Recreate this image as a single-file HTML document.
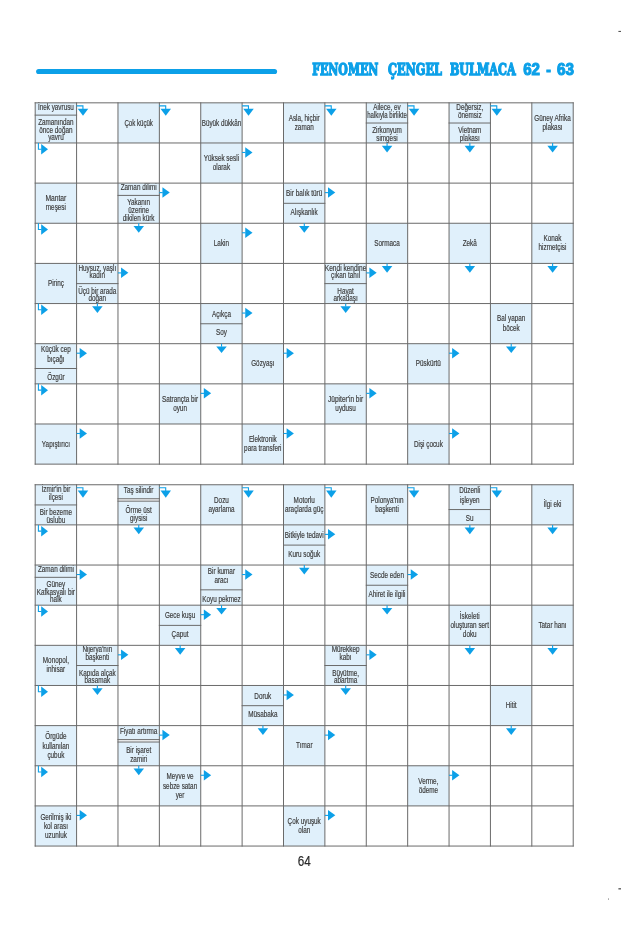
<!DOCTYPE html>
<html lang="tr"><head><meta charset="utf-8"><title>Fenomen Çengel Bulmaca 62 - 63</title>
<style>
html,body{margin:0;padding:0;background:#fff}
svg{display:block;will-change:transform}
text{font-family:"Liberation Sans",sans-serif}
.t text{font-size:8.2px;fill:#3c3c3c;text-anchor:middle;stroke:#3c3c3c;stroke-width:0.18px}
.a polyline{fill:none;stroke-width:1.1}
.h{font-family:"DejaVu Serif Condensed","DejaVu Serif","Liberation Serif",serif;font-size:16.4px;font-weight:bold;fill:#0ca0e8;stroke:#0ca0e8;stroke-width:1.3px;stroke-linejoin:miter;}
.hd{font-family:"Liberation Sans",sans-serif;font-size:16.8px;stroke-width:1.1px}
.p{font-size:15.4px;fill:#2a2a2a;stroke:#2a2a2a;stroke-width:0.2px}
</style></head><body>
<svg width="621" height="931" viewBox="0 0 621 931"><rect width="621" height="931" fill="#fff"/><line x1="38.7" y1="71.5" x2="274.5" y2="71.5" stroke="#0ca0e8" stroke-width="5.2" stroke-linecap="round"/><text class="h" x="312.2" y="74.9" textLength="66.2" lengthAdjust="spacingAndGlyphs">FENOMEN</text><text class="h" x="388.0" y="74.9" textLength="54.0" lengthAdjust="spacingAndGlyphs">ÇENGEL</text><text class="h" x="449.9" y="74.9" textLength="65.7" lengthAdjust="spacingAndGlyphs">BULMACA</text><text class="h hd" x="523.2" y="74.9" textLength="16.8" lengthAdjust="spacingAndGlyphs">62</text><text class="h hd" x="546.3" y="74.9" textLength="4.6" lengthAdjust="spacingAndGlyphs">-</text><text class="h hd" x="556.9" y="74.9" textLength="17.0" lengthAdjust="spacingAndGlyphs">63</text><g fill="#e0f0fb"><rect x="35.20" y="102.83" width="41.38" height="40.15"/><rect x="117.97" y="102.83" width="41.38" height="40.15"/><rect x="200.74" y="102.83" width="41.38" height="40.15"/><rect x="283.51" y="102.83" width="41.38" height="40.15"/><rect x="366.28" y="102.83" width="41.38" height="40.15"/><rect x="449.05" y="102.83" width="41.38" height="40.15"/><rect x="531.82" y="102.83" width="41.38" height="40.15"/><rect x="200.74" y="142.97" width="41.38" height="40.15"/><rect x="35.20" y="183.12" width="41.38" height="40.15"/><rect x="117.97" y="183.12" width="41.38" height="40.15"/><rect x="283.51" y="183.12" width="41.38" height="40.15"/><rect x="200.74" y="223.26" width="41.38" height="40.15"/><rect x="366.28" y="223.26" width="41.38" height="40.15"/><rect x="449.05" y="223.26" width="41.38" height="40.15"/><rect x="531.82" y="223.26" width="41.38" height="40.15"/><rect x="35.20" y="263.41" width="41.38" height="40.15"/><rect x="76.59" y="263.41" width="41.38" height="40.15"/><rect x="324.89" y="263.41" width="41.38" height="40.15"/><rect x="200.74" y="303.56" width="41.38" height="40.15"/><rect x="490.43" y="303.56" width="41.38" height="40.15"/><rect x="35.20" y="343.70" width="41.38" height="40.15"/><rect x="242.12" y="343.70" width="41.38" height="40.15"/><rect x="407.66" y="343.70" width="41.38" height="40.15"/><rect x="159.36" y="383.85" width="41.38" height="40.15"/><rect x="324.89" y="383.85" width="41.38" height="40.15"/><rect x="35.20" y="423.99" width="41.38" height="40.15"/><rect x="242.12" y="423.99" width="41.38" height="40.15"/><rect x="407.66" y="423.99" width="41.38" height="40.15"/></g><g class="t"><text transform="translate(55.89,109.93) scale(0.775,1)">İnek yavrusu</text><text transform="translate(55.89,125.03) scale(0.771,1)">Zamanından</text><text transform="translate(55.89,132.73) scale(0.775,1)">önce doğan</text><text transform="translate(55.89,140.23) scale(0.775,1)">yavru</text><text transform="translate(138.66,125.53) scale(0.747,1)">Çok küçük</text><text transform="translate(221.43,125.53) scale(0.767,1)">Büyük dükkân</text><text transform="translate(304.20,120.63) scale(0.775,1)">Asla, hiçbir</text><text transform="translate(304.20,129.83) scale(0.775,1)">zaman</text><text transform="translate(386.97,109.93) scale(0.775,1)">Ailece, ev</text><text transform="translate(386.97,117.63) scale(0.736,1)">halkıyla birlikte</text><text transform="translate(386.97,133.13) scale(0.775,1)">Zirkonyum</text><text transform="translate(386.97,140.63) scale(0.775,1)">simgesi</text><text transform="translate(469.74,109.93) scale(0.775,1)">Değersiz,</text><text transform="translate(469.74,117.63) scale(0.775,1)">önemsiz</text><text transform="translate(469.74,133.13) scale(0.775,1)">Vietnam</text><text transform="translate(469.74,140.63) scale(0.775,1)">plakası</text><text transform="translate(552.51,120.63) scale(0.775,1)">Güney Afrika</text><text transform="translate(552.51,129.83) scale(0.775,1)">plakası</text><text transform="translate(221.43,160.78) scale(0.775,1)">Yüksek sesli</text><text transform="translate(221.43,169.97) scale(0.775,1)">olarak</text><text transform="translate(55.89,200.92) scale(0.819,1)">Mantar</text><text transform="translate(55.89,210.12) scale(0.775,1)">meşesi</text><text transform="translate(138.66,190.22) scale(0.775,1)">Zaman dilimi</text><text transform="translate(138.66,205.32) scale(0.775,1)">Yakanın</text><text transform="translate(138.66,213.02) scale(0.775,1)">üzerine</text><text transform="translate(138.66,220.52) scale(0.775,1)">dikilen kürk</text><text transform="translate(304.20,196.42) scale(0.789,1)">Bir balık türü</text><text transform="translate(304.20,215.02) scale(0.775,1)">Alışkanlık</text><text transform="translate(221.43,245.96) scale(0.775,1)">Lakin</text><text transform="translate(386.97,245.96) scale(0.775,1)">Sormaca</text><text transform="translate(469.74,245.96) scale(0.775,1)">Zekâ</text><text transform="translate(552.51,241.06) scale(0.775,1)">Konak</text><text transform="translate(552.51,250.26) scale(0.775,1)">hizmetçisi</text><text transform="translate(55.89,286.11) scale(0.775,1)">Pirinç</text><text transform="translate(97.28,270.51) scale(0.775,1)">Huysuz, yaşlı</text><text transform="translate(97.28,278.21) scale(0.775,1)">kadın</text><text transform="translate(97.28,293.71) scale(0.775,1)">Üçü bir arada</text><text transform="translate(97.28,301.21) scale(0.775,1)">doğan</text><text transform="translate(345.59,270.51) scale(0.800,1)">Kendi kendine</text><text transform="translate(345.59,278.21) scale(0.775,1)">çıkan tahıl</text><text transform="translate(345.59,293.71) scale(0.775,1)">Hayat</text><text transform="translate(345.59,301.21) scale(0.775,1)">arkadaşı</text><text transform="translate(221.43,316.86) scale(0.775,1)">Açıkça</text><text transform="translate(221.43,335.45) scale(0.775,1)">Soy</text><text transform="translate(511.13,321.36) scale(0.775,1)">Bal yapan</text><text transform="translate(511.13,330.56) scale(0.775,1)">böcek</text><text transform="translate(55.89,352.40) scale(0.775,1)">Küçük cep</text><text transform="translate(55.89,361.60) scale(0.775,1)">bıçağı</text><text transform="translate(55.89,380.30) scale(0.775,1)">Özgür</text><text transform="translate(262.82,366.40) scale(0.775,1)">Gözyaşı</text><text transform="translate(428.36,366.40) scale(0.775,1)">Püskürtü</text><text transform="translate(180.05,401.65) scale(0.775,1)">Satrançta bir</text><text transform="translate(180.05,410.85) scale(0.775,1)">oyun</text><text transform="translate(345.59,401.65) scale(0.801,1)">Jüpiter&#x27;in bir</text><text transform="translate(345.59,410.85) scale(0.775,1)">uydusu</text><text transform="translate(55.89,446.69) scale(0.775,1)">Yapıştırıcı</text><text transform="translate(262.82,441.79) scale(0.775,1)">Elektronik</text><text transform="translate(262.82,450.99) scale(0.775,1)">para transferi</text><text transform="translate(428.36,446.69) scale(0.775,1)">Dişi çocuk</text></g><g stroke="#6a6a6a" stroke-width="1" stroke-linecap="square"><line x1="35.20" y1="115.13" x2="76.59" y2="115.13"/><line x1="366.28" y1="123.03" x2="407.66" y2="123.03"/><line x1="449.05" y1="123.03" x2="490.43" y2="123.03"/><line x1="117.97" y1="195.42" x2="159.35" y2="195.42"/><line x1="283.51" y1="203.32" x2="324.89" y2="203.32"/><line x1="76.59" y1="283.61" x2="117.97" y2="283.61"/><line x1="324.89" y1="283.61" x2="366.28" y2="283.61"/><line x1="200.74" y1="323.75" x2="242.12" y2="323.75"/><line x1="35.20" y1="368.50" x2="76.59" y2="368.50"/><line x1="35.20" y1="102.83" x2="35.20" y2="464.13"/><line x1="76.59" y1="102.83" x2="76.59" y2="464.13"/><line x1="117.97" y1="102.83" x2="117.97" y2="464.13"/><line x1="159.36" y1="102.83" x2="159.36" y2="464.13"/><line x1="200.74" y1="102.83" x2="200.74" y2="464.13"/><line x1="242.12" y1="102.83" x2="242.12" y2="464.13"/><line x1="283.51" y1="102.83" x2="283.51" y2="464.13"/><line x1="324.89" y1="102.83" x2="324.89" y2="464.13"/><line x1="366.28" y1="102.83" x2="366.28" y2="464.13"/><line x1="407.66" y1="102.83" x2="407.66" y2="464.13"/><line x1="449.05" y1="102.83" x2="449.05" y2="464.13"/><line x1="490.43" y1="102.83" x2="490.43" y2="464.13"/><line x1="531.82" y1="102.83" x2="531.82" y2="464.13"/><line x1="573.21" y1="102.83" x2="573.21" y2="464.13"/><line x1="35.20" y1="102.83" x2="573.21" y2="102.83"/><line x1="35.20" y1="142.97" x2="573.21" y2="142.97"/><line x1="35.20" y1="183.12" x2="573.21" y2="183.12"/><line x1="35.20" y1="223.26" x2="573.21" y2="223.26"/><line x1="35.20" y1="263.41" x2="573.21" y2="263.41"/><line x1="35.20" y1="303.56" x2="573.21" y2="303.56"/><line x1="35.20" y1="343.70" x2="573.21" y2="343.70"/><line x1="35.20" y1="383.85" x2="573.21" y2="383.85"/><line x1="35.20" y1="423.99" x2="573.21" y2="423.99"/><line x1="35.20" y1="464.13" x2="573.21" y2="464.13"/></g><g fill="#0ca0e8" stroke="#0ca0e8" stroke-width="0" class="a"><polyline points="76.59,105.83 82.94,105.83 82.94,109.03"/><polygon points="77.73,108.63 88.23,108.63 82.98,115.73"/><polyline points="159.36,105.83 165.71,105.83 165.71,109.03"/><polygon points="160.51,108.63 171.01,108.63 165.76,115.73"/><polyline points="242.12,105.83 248.47,105.83 248.47,109.03"/><polygon points="243.28,108.63 253.78,108.63 248.53,115.73"/><polyline points="324.89,105.83 331.25,105.83 331.25,109.03"/><polygon points="326.05,108.63 336.55,108.63 331.30,115.73"/><polyline points="407.66,105.83 414.01,105.83 414.01,109.03"/><polygon points="408.81,108.63 419.31,108.63 414.06,115.73"/><polyline points="490.43,105.83 496.78,105.83 496.78,109.03"/><polygon points="491.58,108.63 502.08,108.63 496.83,115.73"/><polyline points="38.40,142.97 38.40,149.22 41.50,149.22"/><polygon points="41.20,144.02 41.20,154.52 48.00,149.27"/><polyline points="242.12,152.47 245.52,152.47"/><polygon points="245.22,147.18 245.22,157.68 252.52,152.43"/><polyline points="387.07,142.97 387.07,145.97"/><polygon points="381.82,145.68 392.32,145.68 387.07,152.38"/><polyline points="469.84,142.97 469.84,145.97"/><polygon points="464.59,145.68 475.09,145.68 469.84,152.38"/><polyline points="552.61,142.97 552.61,145.97"/><polygon points="547.36,145.68 557.86,145.68 552.61,152.38"/><polyline points="159.36,192.62 162.75,192.62"/><polygon points="162.46,187.32 162.46,197.82 169.75,192.57"/><polyline points="324.89,192.62 328.29,192.62"/><polygon points="327.99,187.32 327.99,197.82 335.29,192.57"/><polyline points="38.40,223.26 38.40,229.51 41.50,229.51"/><polygon points="41.20,224.31 41.20,234.81 48.00,229.56"/><polyline points="138.76,223.26 138.76,226.26"/><polygon points="133.51,225.97 144.01,225.97 138.76,232.66"/><polyline points="242.12,232.76 245.52,232.76"/><polygon points="245.22,227.47 245.22,237.97 252.52,232.72"/><polyline points="304.30,223.26 304.30,226.26"/><polygon points="299.05,225.97 309.55,225.97 304.30,232.66"/><polyline points="117.97,272.91 121.37,272.91"/><polygon points="121.07,267.61 121.07,278.11 128.37,272.86"/><polyline points="366.28,272.91 369.68,272.91"/><polygon points="369.38,267.61 369.38,278.11 376.68,272.86"/><polyline points="387.07,263.41 387.07,266.41"/><polygon points="381.82,266.11 392.32,266.11 387.07,272.81"/><polyline points="469.84,263.41 469.84,266.41"/><polygon points="464.59,266.11 475.09,266.11 469.84,272.81"/><polyline points="552.61,263.41 552.61,266.41"/><polygon points="547.36,266.11 557.86,266.11 552.61,272.81"/><polyline points="38.40,303.56 38.40,309.81 41.50,309.81"/><polygon points="41.20,304.61 41.20,315.11 48.00,309.86"/><polyline points="97.38,303.56 97.38,306.56"/><polygon points="92.13,306.25 102.63,306.25 97.38,312.95"/><polyline points="242.12,313.06 245.52,313.06"/><polygon points="245.22,307.75 245.22,318.25 252.52,313.00"/><polyline points="345.69,303.56 345.69,306.56"/><polygon points="340.44,306.25 350.94,306.25 345.69,312.95"/><polyline points="76.59,353.20 79.99,353.20"/><polygon points="79.69,347.90 79.69,358.40 86.99,353.15"/><polyline points="221.53,343.70 221.53,346.70"/><polygon points="216.28,346.40 226.78,346.40 221.53,353.10"/><polyline points="283.51,353.20 286.91,353.20"/><polygon points="286.61,347.90 286.61,358.40 293.91,353.15"/><polyline points="449.05,353.20 452.45,353.20"/><polygon points="452.15,347.90 452.15,358.40 459.45,353.15"/><polyline points="511.23,343.70 511.23,346.70"/><polygon points="505.98,346.40 516.48,346.40 511.23,353.10"/><polyline points="38.40,383.85 38.40,390.10 41.50,390.10"/><polygon points="41.20,384.90 41.20,395.40 48.00,390.15"/><polyline points="200.74,393.35 204.14,393.35"/><polygon points="203.84,388.05 203.84,398.55 211.14,393.30"/><polyline points="366.28,393.35 369.68,393.35"/><polygon points="369.38,388.05 369.38,398.55 376.68,393.30"/><polyline points="76.59,433.49 79.99,433.49"/><polygon points="79.69,428.19 79.69,438.69 86.99,433.44"/><polyline points="283.51,433.49 286.91,433.49"/><polygon points="286.61,428.19 286.61,438.69 293.91,433.44"/><polyline points="449.05,433.49 452.45,433.49"/><polygon points="452.15,428.19 452.15,438.69 459.45,433.44"/></g><g fill="#e0f0fb"><rect x="35.20" y="484.75" width="41.38" height="40.15"/><rect x="117.97" y="484.75" width="41.38" height="40.15"/><rect x="117.97" y="498.75" width="41.38" height="2.40" fill="#f4f6f8"/><rect x="200.74" y="484.75" width="41.38" height="40.15"/><rect x="283.51" y="484.75" width="41.38" height="40.15"/><rect x="366.28" y="484.75" width="41.38" height="40.15"/><rect x="449.05" y="484.75" width="41.38" height="40.15"/><rect x="531.82" y="484.75" width="41.38" height="40.15"/><rect x="283.51" y="524.89" width="41.38" height="40.15"/><rect x="35.20" y="565.04" width="41.38" height="40.15"/><rect x="200.74" y="565.04" width="41.38" height="40.15"/><rect x="366.28" y="565.04" width="41.38" height="40.15"/><rect x="159.36" y="605.18" width="41.38" height="40.15"/><rect x="449.05" y="605.18" width="41.38" height="40.15"/><rect x="531.82" y="605.18" width="41.38" height="40.15"/><rect x="35.20" y="645.33" width="41.38" height="40.15"/><rect x="76.59" y="645.33" width="41.38" height="40.15"/><rect x="324.89" y="645.33" width="41.38" height="40.15"/><rect x="242.12" y="685.48" width="41.38" height="40.15"/><rect x="490.43" y="685.48" width="41.38" height="40.15"/><rect x="35.20" y="725.62" width="41.38" height="40.15"/><rect x="117.97" y="725.62" width="41.38" height="40.15"/><rect x="117.97" y="739.62" width="41.38" height="2.40" fill="#f4f6f8"/><rect x="283.51" y="725.62" width="41.38" height="40.15"/><rect x="159.36" y="765.77" width="41.38" height="40.15"/><rect x="407.66" y="765.77" width="41.38" height="40.15"/><rect x="35.20" y="805.91" width="41.38" height="40.15"/><rect x="283.51" y="805.91" width="41.38" height="40.15"/></g><g class="t"><text transform="translate(55.89,491.85) scale(0.775,1)">İzmir&#x27;in bir</text><text transform="translate(55.89,499.55) scale(0.775,1)">ilçesi</text><text transform="translate(55.89,515.05) scale(0.775,1)">Bir bezeme</text><text transform="translate(55.89,522.55) scale(0.775,1)">üslubu</text><text transform="translate(138.66,493.35) scale(0.775,1)">Taş silindir</text><text transform="translate(138.66,512.55) scale(0.775,1)">Örme üst</text><text transform="translate(138.66,521.15) scale(0.775,1)">giysisi</text><text transform="translate(221.43,502.55) scale(0.775,1)">Dozu</text><text transform="translate(221.43,511.75) scale(0.775,1)">ayarlama</text><text transform="translate(304.20,502.55) scale(0.775,1)">Motorlu</text><text transform="translate(304.20,511.75) scale(0.775,1)">araçlarda güç</text><text transform="translate(386.97,502.55) scale(0.775,1)">Polonya&#x27;nın</text><text transform="translate(386.97,511.75) scale(0.775,1)">başkenti</text><text transform="translate(469.74,493.45) scale(0.775,1)">Düzenli</text><text transform="translate(469.74,502.65) scale(0.775,1)">işleyen</text><text transform="translate(469.74,521.35) scale(0.775,1)">Su</text><text transform="translate(552.51,507.45) scale(0.775,1)">İlgi eki</text><text transform="translate(304.20,538.19) scale(0.775,1)">Bitkiyle tedavi</text><text transform="translate(304.20,556.79) scale(0.775,1)">Kuru soğuk</text><text transform="translate(55.89,572.14) scale(0.775,1)">Zaman dilimi</text><text transform="translate(55.89,587.24) scale(0.775,1)">Güney</text><text transform="translate(55.89,594.94) scale(0.775,1)">Kafkasyalı bir</text><text transform="translate(55.89,602.44) scale(0.775,1)">halk</text><text transform="translate(221.43,573.74) scale(0.775,1)">Bir kumar</text><text transform="translate(221.43,582.94) scale(0.775,1)">aracı</text><text transform="translate(221.43,601.64) scale(0.775,1)">Koyu pekmez</text><text transform="translate(386.97,578.34) scale(0.775,1)">Secde eden</text><text transform="translate(386.97,596.94) scale(0.775,1)">Ahiret ile ilgili</text><text transform="translate(180.05,618.48) scale(0.775,1)">Gece kuşu</text><text transform="translate(180.05,637.08) scale(0.775,1)">Çaput</text><text transform="translate(469.74,618.88) scale(0.775,1)">İskeleti</text><text transform="translate(469.74,628.08) scale(0.775,1)">oluşturan sert</text><text transform="translate(469.74,637.28) scale(0.775,1)">doku</text><text transform="translate(552.51,627.88) scale(0.775,1)">Tatar hanı</text><text transform="translate(55.89,663.13) scale(0.775,1)">Monopol,</text><text transform="translate(55.89,672.33) scale(0.775,1)">inhisar</text><text transform="translate(97.28,652.43) scale(0.775,1)">Nijerya&#x27;nın</text><text transform="translate(97.28,660.13) scale(0.775,1)">başkenti</text><text transform="translate(97.28,675.63) scale(0.775,1)">Kapıda alçak</text><text transform="translate(97.28,683.13) scale(0.775,1)">basamak</text><text transform="translate(345.59,652.43) scale(0.775,1)">Mürekkep</text><text transform="translate(345.59,660.13) scale(0.775,1)">kabı</text><text transform="translate(345.59,675.63) scale(0.775,1)">Büyütme,</text><text transform="translate(345.59,683.13) scale(0.775,1)">abartma</text><text transform="translate(262.82,698.77) scale(0.775,1)">Doruk</text><text transform="translate(262.82,717.38) scale(0.775,1)">Müsabaka</text><text transform="translate(511.13,708.18) scale(0.775,1)">Hitit</text><text transform="translate(55.89,739.32) scale(0.775,1)">Örgüde</text><text transform="translate(55.89,748.52) scale(0.775,1)">kullanılan</text><text transform="translate(55.89,757.72) scale(0.775,1)">çubuk</text><text transform="translate(138.66,734.22) scale(0.775,1)">Fiyatı artırma</text><text transform="translate(138.66,753.42) scale(0.775,1)">Bir işaret</text><text transform="translate(138.66,762.02) scale(0.775,1)">zamiri</text><text transform="translate(304.20,748.32) scale(0.775,1)">Tımar</text><text transform="translate(180.05,779.47) scale(0.775,1)">Meyve ve</text><text transform="translate(180.05,788.67) scale(0.775,1)">sebze satan</text><text transform="translate(180.05,797.87) scale(0.775,1)">yer</text><text transform="translate(428.36,783.57) scale(0.775,1)">Verme,</text><text transform="translate(428.36,792.77) scale(0.775,1)">ödeme</text><text transform="translate(55.89,819.61) scale(0.775,1)">Gerilmiş iki</text><text transform="translate(55.89,828.81) scale(0.775,1)">kol arası</text><text transform="translate(55.89,838.01) scale(0.775,1)">uzunluk</text><text transform="translate(304.20,823.71) scale(0.775,1)">Çok uyuşuk</text><text transform="translate(304.20,832.91) scale(0.775,1)">olan</text></g><g stroke="#6a6a6a" stroke-width="1" stroke-linecap="square"><line x1="35.20" y1="504.95" x2="76.59" y2="504.95"/><line x1="117.97" y1="498.75" x2="159.35" y2="498.75"/><line x1="117.97" y1="501.15" x2="159.35" y2="501.15"/><line x1="449.05" y1="509.55" x2="490.43" y2="509.55"/><line x1="283.51" y1="545.10" x2="324.89" y2="545.10"/><line x1="35.20" y1="577.34" x2="76.59" y2="577.34"/><line x1="200.74" y1="589.84" x2="242.12" y2="589.84"/><line x1="366.28" y1="585.24" x2="407.66" y2="585.24"/><line x1="159.36" y1="625.38" x2="200.74" y2="625.38"/><line x1="76.59" y1="665.53" x2="117.97" y2="665.53"/><line x1="324.89" y1="665.53" x2="366.28" y2="665.53"/><line x1="242.12" y1="705.68" x2="283.51" y2="705.68"/><line x1="117.97" y1="739.62" x2="159.35" y2="739.62"/><line x1="117.97" y1="742.02" x2="159.35" y2="742.02"/><line x1="35.20" y1="484.75" x2="35.20" y2="846.06"/><line x1="76.59" y1="484.75" x2="76.59" y2="846.06"/><line x1="117.97" y1="484.75" x2="117.97" y2="846.06"/><line x1="159.36" y1="484.75" x2="159.36" y2="846.06"/><line x1="200.74" y1="484.75" x2="200.74" y2="846.06"/><line x1="242.12" y1="484.75" x2="242.12" y2="846.06"/><line x1="283.51" y1="484.75" x2="283.51" y2="846.06"/><line x1="324.89" y1="484.75" x2="324.89" y2="846.06"/><line x1="366.28" y1="484.75" x2="366.28" y2="846.06"/><line x1="407.66" y1="484.75" x2="407.66" y2="846.06"/><line x1="449.05" y1="484.75" x2="449.05" y2="846.06"/><line x1="490.43" y1="484.75" x2="490.43" y2="846.06"/><line x1="531.82" y1="484.75" x2="531.82" y2="846.06"/><line x1="573.21" y1="484.75" x2="573.21" y2="846.06"/><line x1="35.20" y1="484.75" x2="573.21" y2="484.75"/><line x1="35.20" y1="524.89" x2="573.21" y2="524.89"/><line x1="35.20" y1="565.04" x2="573.21" y2="565.04"/><line x1="35.20" y1="605.18" x2="573.21" y2="605.18"/><line x1="35.20" y1="645.33" x2="573.21" y2="645.33"/><line x1="35.20" y1="685.48" x2="573.21" y2="685.48"/><line x1="35.20" y1="725.62" x2="573.21" y2="725.62"/><line x1="35.20" y1="765.77" x2="573.21" y2="765.77"/><line x1="35.20" y1="805.91" x2="573.21" y2="805.91"/><line x1="35.20" y1="846.06" x2="573.21" y2="846.06"/></g><g fill="#0ca0e8" stroke="#0ca0e8" stroke-width="0" class="a"><polyline points="76.59,487.75 82.94,487.75 82.94,490.95"/><polygon points="77.73,490.55 88.23,490.55 82.98,497.65"/><polyline points="159.36,487.75 165.71,487.75 165.71,490.95"/><polygon points="160.51,490.55 171.01,490.55 165.76,497.65"/><polyline points="242.12,487.75 248.47,487.75 248.47,490.95"/><polygon points="243.28,490.55 253.78,490.55 248.53,497.65"/><polyline points="324.89,487.75 331.25,487.75 331.25,490.95"/><polygon points="326.05,490.55 336.55,490.55 331.30,497.65"/><polyline points="407.66,487.75 414.01,487.75 414.01,490.95"/><polygon points="408.81,490.55 419.31,490.55 414.06,497.65"/><polyline points="490.43,487.75 496.78,487.75 496.78,490.95"/><polygon points="491.58,490.55 502.08,490.55 496.83,497.65"/><polyline points="38.40,524.89 38.40,531.14 41.50,531.14"/><polygon points="41.20,525.95 41.20,536.45 48.00,531.20"/><polyline points="138.76,524.89 138.76,527.89"/><polygon points="133.51,527.59 144.01,527.59 138.76,534.29"/><polyline points="324.89,534.39 328.29,534.39"/><polygon points="327.99,529.09 327.99,539.59 335.29,534.34"/><polyline points="469.84,524.89 469.84,527.89"/><polygon points="464.59,527.59 475.09,527.59 469.84,534.29"/><polyline points="552.61,524.89 552.61,527.89"/><polygon points="547.36,527.59 557.86,527.59 552.61,534.29"/><polyline points="76.59,574.54 79.99,574.54"/><polygon points="79.69,569.24 79.69,579.74 86.99,574.49"/><polyline points="242.12,574.54 245.52,574.54"/><polygon points="245.22,569.24 245.22,579.74 252.52,574.49"/><polyline points="304.30,565.04 304.30,568.04"/><polygon points="299.05,567.74 309.55,567.74 304.30,574.44"/><polyline points="407.66,574.54 411.06,574.54"/><polygon points="410.76,569.24 410.76,579.74 418.06,574.49"/><polyline points="38.40,605.18 38.40,611.43 41.50,611.43"/><polygon points="41.20,606.24 41.20,616.74 48.00,611.49"/><polyline points="200.74,614.68 204.14,614.68"/><polygon points="203.84,609.38 203.84,619.88 211.14,614.63"/><polyline points="221.53,605.18 221.53,608.18"/><polygon points="216.28,607.88 226.78,607.88 221.53,614.58"/><polyline points="387.07,605.18 387.07,608.18"/><polygon points="381.82,607.88 392.32,607.88 387.07,614.58"/><polyline points="117.97,654.83 121.37,654.83"/><polygon points="121.07,649.53 121.07,660.03 128.37,654.78"/><polyline points="180.15,645.33 180.15,648.33"/><polygon points="174.90,648.03 185.40,648.03 180.15,654.73"/><polyline points="366.28,654.83 369.68,654.83"/><polygon points="369.38,649.53 369.38,660.03 376.68,654.78"/><polyline points="469.84,645.33 469.84,648.33"/><polygon points="464.59,648.03 475.09,648.03 469.84,654.73"/><polyline points="552.61,645.33 552.61,648.33"/><polygon points="547.36,648.03 557.86,648.03 552.61,654.73"/><polyline points="38.40,685.48 38.40,691.73 41.50,691.73"/><polygon points="41.20,686.53 41.20,697.03 48.00,691.78"/><polyline points="97.38,685.48 97.38,688.48"/><polygon points="92.13,688.17 102.63,688.17 97.38,694.88"/><polyline points="283.51,694.98 286.91,694.98"/><polygon points="286.61,689.67 286.61,700.17 293.91,694.92"/><polyline points="345.69,685.48 345.69,688.48"/><polygon points="340.44,688.17 350.94,688.17 345.69,694.88"/><polyline points="159.36,735.12 162.75,735.12"/><polygon points="162.46,729.82 162.46,740.32 169.75,735.07"/><polyline points="262.92,725.62 262.92,728.62"/><polygon points="257.67,728.32 268.17,728.32 262.92,735.02"/><polyline points="324.89,735.12 328.29,735.12"/><polygon points="327.99,729.82 327.99,740.32 335.29,735.07"/><polyline points="511.23,725.62 511.23,728.62"/><polygon points="505.98,728.32 516.48,728.32 511.23,735.02"/><polyline points="38.40,765.77 38.40,772.02 41.50,772.02"/><polygon points="41.20,766.82 41.20,777.32 48.00,772.07"/><polyline points="138.76,765.77 138.76,768.77"/><polygon points="133.51,768.47 144.01,768.47 138.76,775.17"/><polyline points="200.74,775.27 204.14,775.27"/><polygon points="203.84,769.97 203.84,780.47 211.14,775.22"/><polyline points="449.05,775.27 452.45,775.27"/><polygon points="452.15,769.97 452.15,780.47 459.45,775.22"/><polyline points="76.59,815.41 79.99,815.41"/><polygon points="79.69,810.11 79.69,820.61 86.99,815.36"/><polyline points="324.89,815.41 328.29,815.41"/><polygon points="327.99,810.11 327.99,820.61 335.29,815.36"/></g><text class="p" transform="translate(304.2,866.1) scale(0.76,1)" text-anchor="middle">64</text><rect x="618.4" y="30.9" width="2.6" height="1" fill="#444"/><rect x="618.4" y="888.3" width="2.6" height="1.1" fill="#333"/><rect x="608.1" y="898.2" width="0.8" height="1.8" fill="#999"/></svg>
</body></html>
